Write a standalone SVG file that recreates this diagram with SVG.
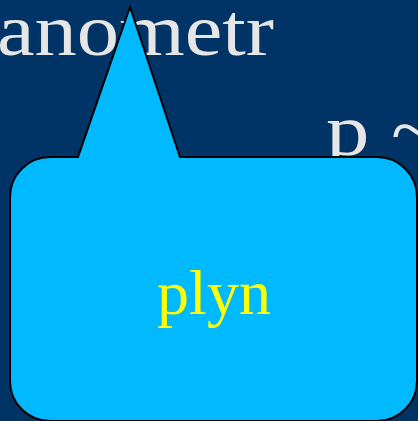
<svg xmlns="http://www.w3.org/2000/svg" width="418" height="421" viewBox="0 0 418 421">
<style>
.t{font-family:"Liberation Serif","Times New Roman",serif;fill:#E6E6E6;font-size:74px}
.c{fill:#00B9FF;stroke:#000;stroke-width:2}
.l{font-family:"Liberation Serif","Times New Roman",serif;fill:#FFFF00;font-size:64px;text-anchor:middle}
</style>
<rect width="418" height="421" fill="#003366"/>
<text class="t" x="-3" y="55" textLength="277" lengthAdjust="spacingAndGlyphs">anometr</text>
<text class="t" x="326" y="155" textLength="112" lengthAdjust="spacingAndGlyphs">p ~</text>
<g id="callout">
<path class="c" d="M50,157 L78,157 L130,7 L180,157 L377,157 A40,40 0 0 1 417,197 L417,381 A40,40 0 0 1 377,421 L50,421 A40,40 0 0 1 10,381 L10,197 A40,40 0 0 1 50,157 Z"/>
<text class="l" x="214" y="314">plyn</text>
</g>
</svg>
